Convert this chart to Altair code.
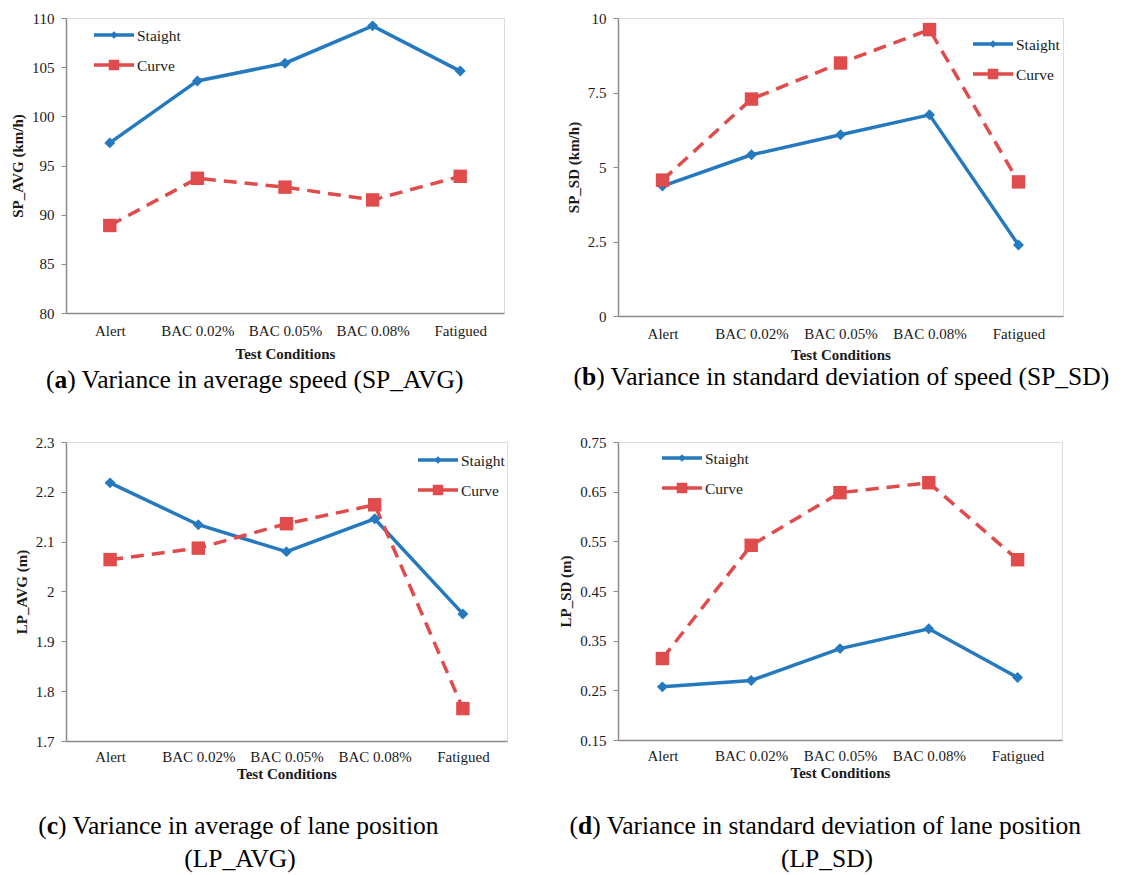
import altair as alt
import pandas as pd

# ---------------- data ----------------
conditions = ["Alert", "BAC 0.02%", "BAC 0.05%", "BAC 0.08%", "Fatigued"]
series_names = ["Staight", "Curve"]

sp_avg_straight = [97.3, 103.6, 105.4, 109.2, 104.6]
sp_avg_curve = [88.9, 93.7, 92.8, 91.5, 93.9]

sp_sd_straight = [4.36, 5.41, 6.08, 6.75, 2.38]
sp_sd_curve = [4.56, 7.28, 8.49, 9.61, 4.50]

lp_avg_straight = [2.218, 2.134, 2.080, 2.146, 1.955]
lp_avg_curve = [2.064, 2.087, 2.136, 2.174, 1.765]

lp_sd_straight = [0.257, 0.270, 0.334, 0.374, 0.276]
lp_sd_curve = [0.314, 0.542, 0.648, 0.668, 0.513]

y_titles = ["SP_AVG (km/h)", "SP_SD (km/h)", "LP_AVG (m)", "LP_SD (m)"]
x_title = "Test Conditions"
y_ticks_a = [80, 85, 90, 95, 100, 105, 110]
y_ticks_b = [0, 2.5, 5, 7.5, 10]
y_ticks_c = [1.7, 1.8, 1.9, 2.0, 2.1, 2.2, 2.3]
y_ticks_d = [0.15, 0.25, 0.35, 0.45, 0.55, 0.65, 0.75]

captions = [
    ("a", ["Variance in average speed (SP_AVG)"]),
    ("b", ["Variance in standard deviation of speed (SP_SD)"]),
    ("c", ["Variance in average of lane position", "(LP_AVG)"]),
    ("d", ["Variance in standard deviation of lane position", "(LP_SD)"]),
]

# ---------------- style ----------------
SERIF = "Liberation Serif"
BLUE = "#2579BE"
RED = "#E04B4B"
AXIS_GRAY = "#8C8C8C"
TEXT = "#1a1a1a"
CAP_SIZE = 25.5

# Times-compatible advance widths (per em) for caption layout
W_REG = {" ": .25, "(": .333, ")": .333, "_": .5, "A": .722, "D": .722, "G": .722,
         "L": .611, "P": .556, "S": .556, "V": .722, "a": .444, "c": .444, "d": .5,
         "e": .444, "f": .333, "g": .5, "h": .5, "i": .278, "l": .278, "n": .5,
         "o": .5, "p": .5, "r": .333, "s": .389, "t": .278, "v": .5}
W_BOLD = {"a": .5, "b": .556, "c": .444, "d": .556}


def tw(s, size, bold=False):
    tab = W_BOLD if bold else W_REG
    return sum(tab.get(ch, .5) for ch in s) * size


def caption_layers(letter, lines, cx, y0, dy):
    layers = []
    first = lines[0]
    rest = ") " + first
    total = tw("(", CAP_SIZE) + tw(letter, CAP_SIZE, True) + tw(rest, CAP_SIZE)
    x0 = cx - total / 2
    parts = [("(", "normal", x0),
             (letter, "bold", x0 + tw("(", CAP_SIZE)),
             (rest, "normal", x0 + tw("(", CAP_SIZE) + tw(letter, CAP_SIZE, True))]
    for txt, wgt, xx in parts:
        layers.append(
            alt.Chart(pd.DataFrame({"t": [txt]})).mark_text(
                align="left", baseline="alphabetic", font=SERIF, fontSize=CAP_SIZE,
                fontWeight=wgt, color="#000000"
            ).encode(text="t:N", x=alt.value(xx), y=alt.value(y0))
        )
    for k, ln in enumerate(lines[1:], start=1):
        layers.append(
            alt.Chart(pd.DataFrame({"t": [ln]})).mark_text(
                align="center", baseline="alphabetic", font=SERIF, fontSize=CAP_SIZE,
                color="#000000"
            ).encode(text="t:N", x=alt.value(cx), y=alt.value(y0 + k * dy))
        )
    return layers


def legend_layers(lx, ly):
    layers = []
    leg_df = pd.DataFrame({"series": series_names})
    specs = [(BLUE, None, "diamond", 60), (RED, [17, 6], "square", 110)]
    for i, (col, dash, shape, size) in enumerate(specs):
        d = alt.Chart(leg_df).transform_filter(alt.datum.series == series_names[i])
        yy = ly + 30 * i
        rule_kw = dict(color=col, strokeWidth=3.5)
        if dash:
            rule_kw["strokeDash"] = dash
        layers.append(d.mark_rule(**rule_kw).encode(
            x=alt.value(lx), x2=alt.value(lx + 40), y=alt.value(yy)))
        layers.append(d.mark_point(shape=shape, filled=True, size=size, color=col, opacity=1).encode(
            x=alt.value(lx + 20), y=alt.value(yy)))
        layers.append(d.mark_text(align="left", baseline="middle", font=SERIF, fontSize=15.5,
                                  color=TEXT).encode(
            x=alt.value(lx + 43), y=alt.value(yy + 1), text="series:N"))
    return layers


def panel(straight, curve, ytitle, ydomain, yvalues, yfmt, w, h, leg, cap, cap_pos,
          xlabpad, xtitlepad):
    df = pd.DataFrame({
        "condition": conditions * 2,
        "series": [series_names[0]] * len(conditions) + [series_names[1]] * len(conditions),
        "value": straight + curve,
    })
    x = alt.X("condition:N", sort=conditions,
              scale=alt.Scale(type="point", padding=0.5),
              axis=alt.Axis(title=x_title, labelAngle=0, ticks=False, labelPadding=xlabpad,
                            titlePadding=xtitlepad, domainColor=AXIS_GRAY, domainWidth=1.5,
                            labelFont=SERIF, labelFontSize=15, labelColor=TEXT,
                            titleFont=SERIF, titleFontSize=15, titleFontWeight="bold",
                            titleColor=TEXT))
    y = alt.Y("value:Q", scale=alt.Scale(domain=ydomain, nice=False, zero=False),
              axis=alt.Axis(title=ytitle, values=yvalues, format=yfmt, grid=False,
                            tickSize=5, tickColor=AXIS_GRAY, domainColor=AXIS_GRAY,
                            domainWidth=1.5, labelPadding=7, titlePadding=6,
                            labelFont=SERIF, labelFontSize=15, labelColor=TEXT,
                            titleFont=SERIF, titleFontSize=15, titleFontWeight="bold",
                            titleColor=TEXT))
    base = alt.Chart(df).encode(x=x, y=y)
    s = base.transform_filter(alt.datum.series == series_names[0])
    c = base.transform_filter(alt.datum.series == series_names[1])
    layers = [
        s.mark_line(color=BLUE, strokeWidth=3.5),
        c.mark_line(color=RED, strokeWidth=3.5, strokeDash=[13, 8]),
        s.mark_point(shape="diamond", filled=True, size=120, color=BLUE, opacity=1),
        c.mark_point(shape="square", filled=True, size=180, color=RED, opacity=1),
    ]
    layers += legend_layers(*leg)
    layers += caption_layers(cap[0], cap[1], *cap_pos)
    return alt.layer(*layers).properties(width=w, height=h)


pa = panel(sp_avg_straight, sp_avg_curve, y_titles[0], [80, 110], y_ticks_a, "d",
           438, 295, (28, 17), captions[0], (192, 370, 33), 10, 8)
pb = panel(sp_sd_straight, sp_sd_curve, y_titles[1], [0, 10], y_ticks_b, ".1~f",
           445, 298, (355, 26), captions[1], (225, 367, 33), 10, 6)
pc = panel(lp_avg_straight, lp_avg_curve, y_titles[2], [1.7, 2.3], y_ticks_c, ".1~f",
           441, 299, (352, 18), captions[2], (174, 392, 33), 8, 2)
pd_ = panel(lp_sd_straight, lp_sd_curve, y_titles[3], [0.15, 0.75], y_ticks_d, ".2~f",
            444, 298, (44, 16), captions[3], (209, 392, 33), 8, 2)

chart = alt.vconcat(
    alt.hconcat(pa, pb, spacing=60),
    alt.hconcat(pc, pd_, spacing=50),
    spacing=40,
).properties(
    padding={"left": 2, "top": 2, "right": 0, "bottom": 0}
).configure_view(stroke=None).configure(background="white")

chart.save("out.html", embed_options={"renderer": "svg", "actions": False})
